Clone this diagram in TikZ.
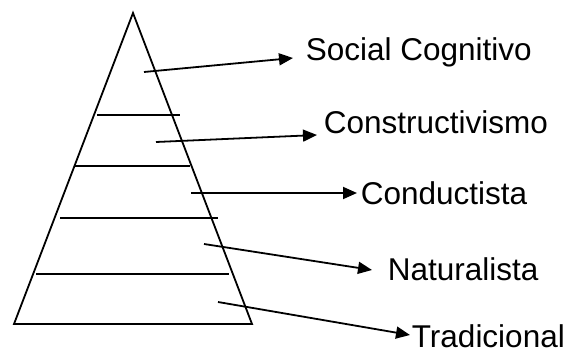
\documentclass[tikz,border=0pt]{standalone}
\usepackage{fontspec}
\setmainfont{Liberation Sans}
\usetikzlibrary{arrows.meta}

\begin{document}
\begin{tikzpicture}[x=1pt,y=-1pt,line width=1.8pt,
    lbl/.style={anchor=base west,inner sep=0pt,font=\fontsize{31.5}{36}\selectfont},
    arr/.style={-{Triangle[length=14pt,width=12pt]}}]
                \useasboundingbox (0,0) rectangle (571,356);

                % Pyramid
                \draw[line join=miter] (133,13) -- (252,324) -- (14,324) -- cycle;

                % Levels
                \draw (97,115) -- (180,115);
                \draw (75,166) -- (190,166);
                \draw (60,218) -- (218,218);
                \draw (36,274) -- (229,274);

                % Labels
                \node[lbl] (soc) at (305,60) {Social Cognitivo};
                \node[lbl] (cons) at (323,133) {Constructivismo};
                \node[lbl] (cond) at (360,204) {Conductista};
                \node[lbl] (nat) at (387,280) {Naturalista};
                \node[lbl] (trad) at (411,347) {Tradicional};

                % Arrow starts
                \coordinate (s1) at (144,72);
                \coordinate (s2) at (156,142);
                \coordinate (s3) at (191,193);
                \coordinate (s4) at (204,244);
                \coordinate (s5) at (218,302);

                % Arrows
                \draw[arr] (s1) -- ([xshift=-12pt,yshift=2pt]soc.base west);
                \draw[arr] (s2) -- ([xshift=-6pt,yshift=-2pt]cons.base west);
                \draw[arr] (s3) -- ([xshift=-3pt,yshift=11pt]cond.base west);
                \draw[arr] (s4) -- ([xshift=-15pt,yshift=10pt]nat.base west);
                \draw[arr] (s5) -- ([xshift=-1pt,yshift=12pt]trad.base west);
            \end{tikzpicture}
\end{document}
